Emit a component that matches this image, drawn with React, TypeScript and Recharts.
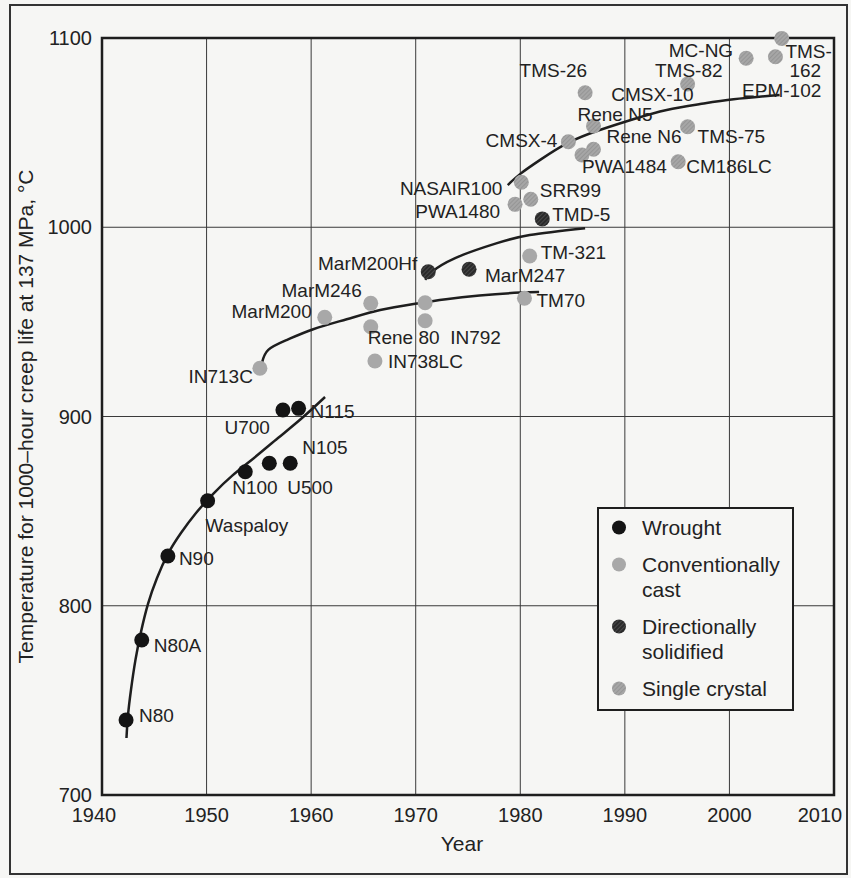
import {
  ComposedChart,
  Scatter,
  Line,
  XAxis,
  YAxis,
  CartesianGrid,
  ReferenceArea,
  Label,
} from "recharts";

type Alloy = { year: number; t: number; names: string[] };
type Pt = { year: number; t: number };

// alloys, grouped by how they are made
const WROUGHT: Alloy[] = [
  { year: 1942.3, t: 739.6, names: ["N80"] },
  { year: 1943.8, t: 781.9, names: ["N80A"] },
  { year: 1946.3, t: 826.3, names: ["N90"] },
  { year: 1950.1, t: 855.5, names: ["Waspaloy"] },
  { year: 1953.7, t: 870.8, names: ["N100"] },
  { year: 1956.0, t: 875.3, names: ["U500"] },
  { year: 1958.0, t: 875.3, names: ["N105"] },
  { year: 1957.3, t: 903.4, names: ["U700"] },
  { year: 1958.8, t: 904.3, names: ["N115"] },
];

const CAST: Alloy[] = [
  { year: 1955.1, t: 925.5, names: ["IN713C"] },
  { year: 1961.3, t: 952.4, names: ["MarM200"] },
  { year: 1965.7, t: 959.8, names: ["MarM246"] },
  { year: 1965.7, t: 947.4, names: ["Rene 80"] },
  { year: 1966.1, t: 929.3, names: ["IN738LC"] },
  { year: 1970.9, t: 960.1, names: [] },
  { year: 1970.9, t: 950.6, names: ["IN792"] },
  { year: 1980.4, t: 962.5, names: ["TM70"] },
  { year: 1980.9, t: 984.8, names: ["TM-321"] },
];

const DS: Alloy[] = [
  { year: 1971.2, t: 976.5, names: ["MarM200Hf"] },
  { year: 1975.1, t: 977.8, names: ["MarM247"] },
  { year: 1982.1, t: 1004.4, names: ["TMD-5"] },
];

const SX: Alloy[] = [
  { year: 1980.1, t: 1023.8, names: ["NASAIR100"] },
  { year: 1981.0, t: 1014.8, names: ["SRR99"] },
  { year: 1979.5, t: 1012.1, names: ["PWA1480"] },
  { year: 1984.6, t: 1045.2, names: ["CMSX-4"] },
  { year: 1987.0, t: 1053.5, names: ["Rene N5"] },
  { year: 1986.2, t: 1071.1, names: ["TMS-26"] },
  { year: 1985.9, t: 1038.2, names: ["PWA1484"] },
  { year: 1987.0, t: 1041.2, names: ["Rene N6"] },
  { year: 1996.0, t: 1075.7, names: ["CMSX-10", "TMS-82"] },
  { year: 1996.0, t: 1053.1, names: ["TMS-75"] },
  { year: 1995.1, t: 1034.6, names: ["CM186LC"] },
  { year: 2001.6, t: 1089.3, names: ["MC-NG"] },
  { year: 2004.4, t: 1090.1, names: ["TMS-\n162"] },
  { year: 2005.0, t: 1099.8, names: ["EPM-102"] },
];

// hand-drawn trend curves, read along each band
const WROUGHT_TREND: Pt[] = [
  { year: 1942.34, t: 730.1 },
  { year: 1942.49, t: 742.3 },
  { year: 1942.77, t: 755.5 },
  { year: 1943.2, t: 771.4 },
  { year: 1943.73, t: 786.2 },
  { year: 1944.4, t: 801.0 },
  { year: 1945.26, t: 814.7 },
  { year: 1946.31, t: 827.4 },
  { year: 1947.55, t: 838.4 },
  { year: 1948.99, t: 849.0 },
  { year: 1950.61, t: 859.0 },
  { year: 1952.43, t: 868.6 },
  { year: 1954.54, t: 878.1 },
  { year: 1956.83, t: 888.6 },
  { year: 1959.13, t: 899.2 },
  { year: 1961.33, t: 910.3 },
];

const CAST_TREND: Pt[] = [
  { year: 1955.3, t: 928.4 },
  { year: 1955.9, t: 935.2 },
  { year: 1957.7, t: 940.5 },
  { year: 1960.2, t: 946.1 },
  { year: 1963.4, t: 951.4 },
  { year: 1966.6, t: 956.3 },
  { year: 1969.8, t: 959.5 },
  { year: 1972.9, t: 962 },
  { year: 1976.1, t: 963.9 },
  { year: 1980.0, t: 965.5 },
  { year: 1981.8, t: 965.8 },
];

const DS_TREND: Pt[] = [
  { year: 1970.9, t: 972.2 },
  { year: 1972.0, t: 978.3 },
  { year: 1974.5, t: 985.4 },
  { year: 1977.7, t: 991.5 },
  { year: 1980.9, t: 995.9 },
  { year: 1986.2, t: 999.5 },
];

const SX_TREND: Pt[] = [
  { year: 1978.8, t: 1022.3 },
  { year: 1980.0, t: 1028.2 },
  { year: 1981.9, t: 1035.6 },
  { year: 1984.6, t: 1044.7 },
  { year: 1987.6, t: 1051.4 },
  { year: 1990.8, t: 1057.1 },
  { year: 1994.0, t: 1062 },
  { year: 1997.2, t: 1065.1 },
  { year: 2000.4, t: 1067.6 },
  { year: 2004.8, t: 1069.9 },
];

const YEAR_TICKS = [1940, 1950, 1960, 1970, 1980, 1990, 2000, 2010];
const TEMP_TICKS = [700, 800, 900, 1000, 1100];

const LEGEND_ITEMS = [
  { name: "Wrought", fill: "#141414" },
  { name: "Conventionally\ncast", fill: "#a8a8a8" },
  { name: "Directionally\nsolidified", fill: "url(#hatch-ds)" },
  { name: "Single crystal", fill: "url(#hatch-sx)" },
];

// label offset from the dot centre: dx, dy, anchor
const LABEL_AT: Record<string, [number, number, "start" | "end" | "middle"]> = {
  N80: [13, -5, "start"],
  N80A: [12, 5, "start"],
  N90: [11, 2, "start"],
  Waspaloy: [-2, 24, "start"],
  N100: [-13, 15, "start"],
  U500: [18, 24, "start"],
  N105: [12, -16, "start"],
  U700: [-13, 17, "end"],
  N115: [12, 3, "start"],
  IN713C: [-7, 8, "end"],
  MarM200: [-13, -6, "end"],
  MarM246: [-9, -13, "end"],
  "Rene 80": [-3, 10, "start"],
  IN792: [25, 16, "start"],
  IN738LC: [13, 0, "start"],
  TM70: [12, 2, "start"],
  "TM-321": [11, -4, "start"],
  MarM200Hf: [-11, -9, "end"],
  MarM247: [16, 6, "start"],
  "TMD-5": [10, -5, "start"],
  NASAIR100: [-19, 6, "end"],
  SRR99: [9, -9, "start"],
  PWA1480: [-15, 7, "end"],
  "CMSX-4": [-11, -2, "end"],
  "Rene N5": [-16, -12, "start"],
  "TMS-26": [2, -23, "end"],
  PWA1484: [0, 11, "start"],
  "Rene N6": [13, -13, "start"],
  "CMSX-10": [6, 10, "end"],
  "TMS-82": [35, -14, "end"],
  "TMS-75": [10, 9, "start"],
  CM186LC: [8, 4, "start"],
  "MC-NG": [-13, -8, "end"],
  "TMS-\n162": [10, -6, "start"],
  "EPM-102": [0, 52, "middle"],
};

const FONT = "'Liberation Sans', Arial, Helvetica, sans-serif";
const INK = "#1e1e1e";

function Hatches() {
  return (
    <defs>
      <pattern id="hatch-ds" width="3" height="3" patternUnits="userSpaceOnUse" patternTransform="rotate(45)">
        <rect width="3" height="3" fill="#2a2a2a" />
        <line x1="0" y1="0" x2="0" y2="3" stroke="#666" strokeWidth="1" />
      </pattern>
      <pattern id="hatch-sx" width="3" height="3" patternUnits="userSpaceOnUse" patternTransform="rotate(45)">
        <rect width="3" height="3" fill="#a6a6a6" />
        <line x1="0" y1="0" x2="0" y2="3" stroke="#858585" strokeWidth="1" />
      </pattern>
    </defs>
  );
}

function AlloyLabel({ x, y, name }: { x: number; y: number; name: string }) {
  const [dx, dy, anchor] = LABEL_AT[name] ?? [10, 0, "start"];
  const lines = name.split("\n");
  return (
    <text
      x={x + dx}
      y={y + dy}
      textAnchor={anchor}
      dominantBaseline="central"
      fontFamily={FONT}
      fontSize={19}
      fill="#222"
    >
      {lines.map((l, i) => (
        <tspan key={i} x={x + dx + (i > 0 ? 4 : 0)} dy={i === 0 ? 0 : 19}>
          {l}
        </tspan>
      ))}
    </text>
  );
}

const dotShape = (fill: string) => (props: any) => {
  const { cx, cy, payload } = props;
  return (
    <g>
      <Hatches />
      <circle cx={cx} cy={cy} r={7.5} fill={fill} />
      {payload.names.map((n: string) => (
        <AlloyLabel key={n} x={cx} y={cy} name={n} />
      ))}
    </g>
  );
};

const YearTick = (props: any) => {
  const { x, y, payload } = props;
  const shift = payload.value === 1940 ? -8 : payload.value === 2010 ? -14 : 0;
  return (
    <text x={x + shift} y={y} dy="0.71em" textAnchor="middle" fontFamily={FONT} fontSize={20} fill="#222">
      {payload.value}
    </text>
  );
};

function LegendBox() {
  return (
    <div
      style={{
        position: "absolute",
        left: 597,
        top: 507,
        width: 197,
        height: 204,
        boxSizing: "border-box",
        border: `2.5px solid ${INK}`,
        background: "#f6f6f4",
        fontFamily: FONT,
        fontSize: 21,
        color: "#222",
        lineHeight: "25px",
        padding: "6px 0 0 0",
      }}
    >
      {LEGEND_ITEMS.map((it, i) => (
        <div key={it.name} style={{ display: "flex", marginTop: i === 0 ? 0 : 12 }}>
          <svg width={16} height={25} style={{ marginLeft: 12, marginRight: 15, flex: "none" }}>
            <Hatches />
            <circle cx={8} cy={12.5} r={7} fill={it.fill} />
          </svg>
          <div style={{ whiteSpace: "pre" }}>{it.name}</div>
        </div>
      ))}
    </div>
  );
}

export default function App() {
  return (
    <div
      style={{
        position: "absolute",
        left: 0,
        top: 0,
        width: 851,
        height: 878,
        background: "#f6f6f4",
        overflow: "hidden",
      }}
    >
      <div
        style={{
          position: "absolute",
          left: 9,
          top: 4,
          width: 839,
          height: 871,
          boxSizing: "border-box",
          border: "2px solid #333",
        }}
      />
      <ComposedChart width={851} height={878} margin={{ top: 38, right: 17, bottom: 43, left: 2 }}>
        <CartesianGrid stroke="#3a3a3a" strokeWidth={1} />
        <XAxis
          dataKey="year"
          type="number"
          domain={[1940, 2010]}
          ticks={YEAR_TICKS}
          height={40}
          axisLine={false}
          tickLine={false}
          tickSize={0}
          tickMargin={13}
          tick={<YearTick />}
        >
          <Label
            content={(p: any) => {
              const vb = p.viewBox;
              return (
                <text x={vb.x + vb.width / 2 - 6} y={851} textAnchor="middle" fontFamily={FONT} fontSize={21} fill="#222">
                  Year
                </text>
              );
            }}
          />
        </XAxis>
        <YAxis
          dataKey="t"
          type="number"
          domain={[700, 1100]}
          ticks={TEMP_TICKS}
          width={100}
          axisLine={false}
          tickLine={false}
          tickSize={0}
          tickMargin={10}
          tick={{ fontFamily: FONT, fontSize: 20, fill: "#222" }}
        >
          <Label
            content={(p: any) => {
              const vb = p.viewBox;
              const cy = vb.y + vb.height / 2;
              return (
                <text
                  x={33}
                  y={cy}
                  transform={`rotate(-90 33 ${cy})`}
                  textAnchor="middle"
                  fontFamily={FONT}
                  fontSize={21}
                  fill="#222"
                >
                  Temperature for 1000–hour creep life at 137 MPa, °C
                </text>
              );
            }}
          />
        </YAxis>
        <ReferenceArea x1={1940} x2={2010} y1={700} y2={1100} fill="none" stroke={INK} strokeWidth={2.5} />

        <Scatter data={WROUGHT} shape={dotShape("#141414")} isAnimationActive={false} />
        <Scatter data={CAST} shape={dotShape("#a8a8a8")} isAnimationActive={false} />
        <Scatter data={DS} shape={dotShape("url(#hatch-ds)")} isAnimationActive={false} />
        <Scatter data={SX} shape={dotShape("url(#hatch-sx)")} isAnimationActive={false} />

        {[WROUGHT_TREND, CAST_TREND, DS_TREND, SX_TREND].map((d, i) => (
          <Line
            key={i}
            data={d}
            dataKey="t"
            type="natural"
            stroke={INK}
            strokeWidth={2.5}
            dot={false}
            activeDot={false}
            isAnimationActive={false}
          />
        ))}
      </ComposedChart>
      <LegendBox />
    </div>
  );
}
